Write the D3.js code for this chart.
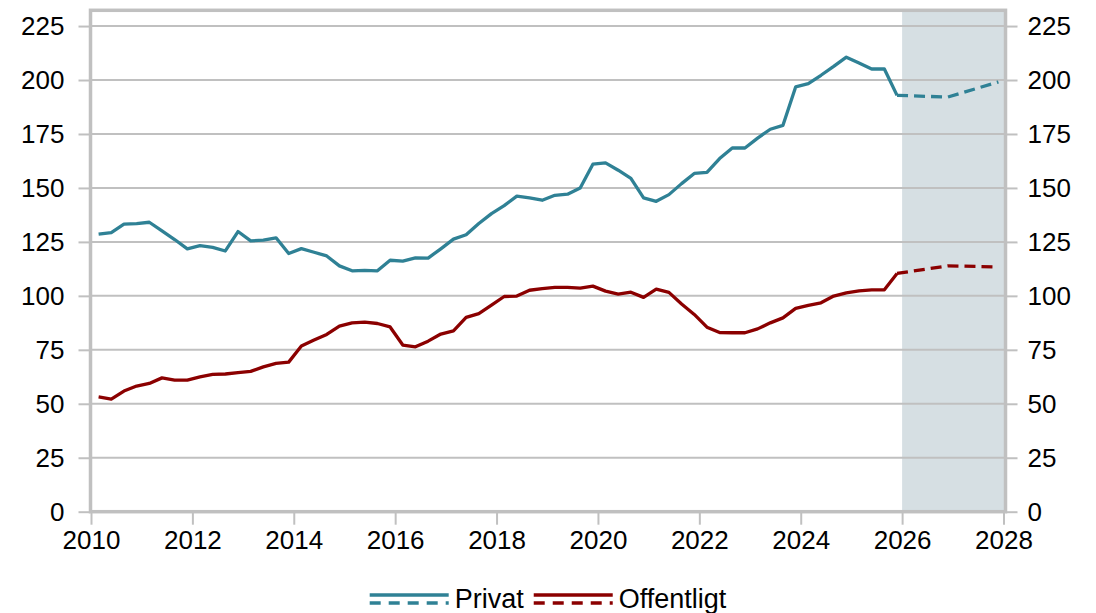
<!DOCTYPE html>
<html lang="da">
<head>
  <meta charset="UTF-8">
  <title>Privat og offentligt</title>
  <script src="https://cdn.jsdelivr.net/npm/d3@7"></script>
  <style>
    html, body { margin: 0; padding: 0; background: #fff; }
    svg { display: block; font-family: "Liberation Sans", Arial, sans-serif; }
  </style>
</head>
<body>
<script>
  // kvartaler 2010K1 - 2025K4
  const quarters = d3.range(2010, 2026).flatMap(yr => [1, 2, 3, 4].map(q => yr + 'K' + q));
  const privat = [
    128.6, 129.3, 133.2, 133.5,
    134.1, 130.1, 126.1, 121.8,
    123.3, 122.5, 120.8, 129.8,
    125.5, 125.8, 126.9, 119.6,
    121.9, 120.2, 118.5, 113.9,
    111.6, 111.8, 111.6, 116.5,
    116.1, 117.6, 117.5, 121.8,
    126.3, 128.3, 133.5, 138.1,
    141.8, 146.2, 145.4, 144.3,
    146.6, 147.1, 150.0, 161.0,
    161.6, 158.2, 154.4, 145.4,
    143.8, 146.9, 152.0, 156.7,
    157.2, 163.6, 168.5, 168.5,
    173.1, 177.2, 179.0, 196.8,
    198.3, 202.2, 206.3, 210.6,
    207.9, 205.1, 205.1, 192.9
  ];
  const offentligt = [
    53.2, 52.2, 55.9, 58.2,
    59.4, 62.0, 61.0, 61.0,
    62.5, 63.6, 63.8, 64.4,
    65.0, 67.1, 68.7, 69.3,
    76.8, 79.5, 82.1, 86.0,
    87.5, 87.8, 87.2, 85.6,
    77.2, 76.4, 79.0, 82.3,
    83.8, 90.0, 91.8, 95.7,
    99.7, 99.9, 102.6, 103.4,
    103.9, 103.9, 103.6, 104.5,
    102.2, 100.8, 101.7, 99.3,
    103.1, 101.6, 96.2, 91.4,
    85.5, 83.0, 82.9, 82.9,
    84.7, 87.5, 89.8, 94.2,
    95.6, 96.8, 99.9, 101.4,
    102.3, 102.8, 102.8, 110.4
  ];
  // prognose (stiplet)
  const forecastQuarters = ['2025K4', '2026K4', '2027K4'];
  const privatForecast = [192.9, 192.1, 199.1];
  const offentligtForecast = [110.4, 113.9, 113.4];

  const yTicks = [0, 25, 50, 75, 100, 125, 150, 175, 200, 225];
  const xTicks = [2010, 2012, 2014, 2016, 2018, 2020, 2022, 2024, 2026, 2028];
  const forecastStart = 2026;
  const seriesNames = ['Privat', 'Offentligt'];

  const width = 1096;
  const height = 613;
  const colors = {Privat: '#2f8195', Offentligt: '#8b0000'};
  const gridColor = '#c0c0c0';
  const fontSize = 26;

  // kvartal -> decimalår (punkt midt i kvartalet som i originalen)
  const qToYear = s => +s.slice(0, 4) + (+s.slice(5) - 1) / 4 + 0.15;

  const x = d3.scaleLinear().domain([2010, 2028]).range([91, 1003.5]);
  const y = d3.scaleLinear().domain([0, 232.3]).range([511.7, 10.3]);

  const svg = d3.select('body').append('svg').attr('width', width).attr('height', height);

  const pLeft = x(2010) - 0.5, pRight = x(2028) + 2, pTop = y(232.3), pBottom = y(0);

  // skraveret prognoseområde
  svg.append('rect')
    .attr('x', x(forecastStart)).attr('y', pTop)
    .attr('width', pRight - x(forecastStart)).attr('height', pBottom - pTop)
    .attr('fill', '#d6dfe3');

  // gitterlinjer
  svg.append('g').selectAll('line').data(yTicks.filter(d => d > 0)).join('line')
    .attr('x1', pLeft).attr('x2', pRight)
    .attr('y1', d => y(d)).attr('y2', d => y(d))
    .attr('stroke', gridColor).attr('stroke-width', 2);

  // ramme
  svg.append('rect')
    .attr('x', pLeft).attr('y', pTop)
    .attr('width', pRight - pLeft).attr('height', pBottom - pTop)
    .attr('fill', 'none').attr('stroke', gridColor).attr('stroke-width', 3.5);

  const styleAxis = g => {
    g.select('.domain').remove();
    g.selectAll('line').attr('stroke', gridColor).attr('stroke-width', 2);
    g.selectAll('text').attr('fill', '#000').style('font-size', fontSize + 'px');
  };

  svg.append('g').attr('transform', `translate(${pLeft},0)`)
    .call(d3.axisLeft(y).tickValues(yTicks).tickSize(12).tickPadding(14).tickFormat(d3.format('d')))
    .call(styleAxis);
  svg.append('g').attr('transform', `translate(${pRight},0)`)
    .call(d3.axisRight(y).tickValues(yTicks).tickSize(12).tickPadding(10).tickFormat(d3.format('d')))
    .call(styleAxis);
  svg.append('g').attr('transform', `translate(0,${pBottom})`)
    .call(d3.axisBottom(x).tickValues(xTicks).tickSize(13).tickPadding(6).tickFormat(d3.format('d')))
    .call(styleAxis);

  const line = d3.line().x(d => x(qToYear(d[0]))).y(d => y(d[1]));

  const actual = {Privat: privat, Offentligt: offentligt};
  const forecast = {Privat: privatForecast, Offentligt: offentligtForecast};

  seriesNames.forEach(name => {
    svg.append('path')
      .datum(d3.zip(forecastQuarters, forecast[name]))
      .attr('d', line)
      .attr('fill', 'none').attr('stroke', colors[name]).attr('stroke-width', 3.3)
      .attr('stroke-dasharray', '11,6');
    svg.append('path')
      .datum(d3.zip(quarters, actual[name]))
      .attr('d', line)
      .attr('fill', 'none').attr('stroke', colors[name]).attr('stroke-width', 3.3)
      .attr('stroke-linejoin', 'round');
  });

  // signaturforklaring
  const legend = svg.append('g');
  const sampleW = 79;
  let cx = 0;
  seriesNames.forEach((name, i) => {
    const item = legend.append('g').attr('transform', `translate(${cx},0)`);
    item.append('line').attr('x1', 0).attr('x2', sampleW).attr('y1', 595).attr('y2', 595)
      .attr('stroke', colors[name]).attr('stroke-width', 3.3);
    item.append('line').attr('x1', 0).attr('x2', sampleW).attr('y1', 603).attr('y2', 603)
      .attr('stroke', colors[name]).attr('stroke-width', 3.3).attr('stroke-dasharray', '11,8');
    const t = item.append('text').attr('x', sampleW + 6).attr('y', 608)
      .style('font-size', '27px').attr('fill', '#000').text(name);
    cx += sampleW + 6 + t.node().getComputedTextLength() + 10;
  });
  const legendW = cx - 10;
  legend.attr('transform', `translate(${(pLeft + pRight) / 2 - legendW / 2},0)`);
</script>
</body>
</html>
